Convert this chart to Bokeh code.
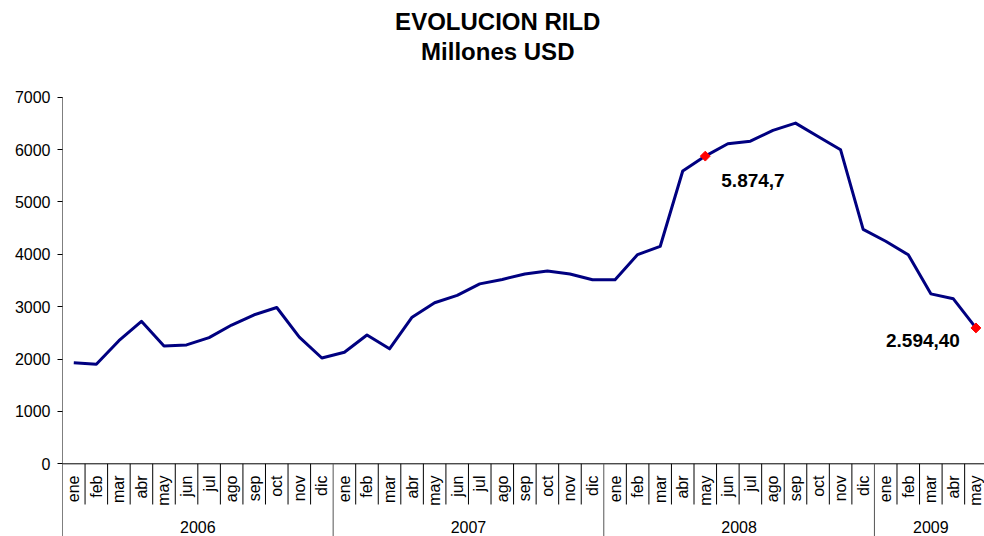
import numpy as np
from bokeh.plotting import figure
from bokeh.models import Range1d, FixedTicker, ColumnDataSource
from bokeh.core.properties import value
from bokeh.embed import file_html
from bokeh.resources import INLINE

# ---------------- data ----------------
months = ["ene", "feb", "mar", "abr", "may", "jun",
          "jul", "ago", "sep", "oct", "nov", "dic"]
years = ["2006", "2007", "2008", "2009"]
months_per_year = [12, 12, 12, 5]

rild_2006 = [1930, 1900, 2350, 2720, 2250, 2270, 2410, 2650, 2845, 2985, 2420, 2020]
rild_2007 = [2130, 2460, 2195, 2800, 3075, 3215, 3435, 3520, 3625, 3680, 3625, 3515]
rild_2008 = [3515, 3995, 4150, 5590, 5874.7, 6110, 6160, 6365, 6505, 6250, 5995, 4475]
rild_2009 = [4250, 3990, 3245, 3150, 2594.4]

highlight_index = [28, 40]
highlight_labels = ["5.874,7", "2.594,40"]

y_ticks = [0, 1000, 2000, 3000, 4000, 5000, 6000, 7000]
title_lines = ["EVOLUCION RILD", "Millones USD"]

# ---------------- derived ----------------
values = rild_2006 + rild_2007 + rild_2008 + rild_2009
n = len(values)
x = list(range(n))
month_labels = []
for cnt in months_per_year:
    month_labels += months[:cnt]

year_starts = list(np.cumsum([0] + months_per_year[:-1]))
year_centers = [s + c / 2 - 0.5 for s, c in zip(year_starts, months_per_year)]
year_bounds = [s - 0.5 for s in year_starts]

FONT = "Liberation Sans"
LINE_COLOR = "#000080"

# layout constants (y in data units)
Y_TOP, Y_BOTTOM = 8846, -1388
MONTH_LABEL_Y = -223
MONTH_SEP_Y = -777
YEAR_LABEL_Y = -1216
TITLE_X = 18.8
TITLE_Y = [8436, 7873]

p = figure(width=984, height=536, output_backend="svg", toolbar_location=None,
           x_range=Range1d(-0.5, 40.38), y_range=Range1d(Y_BOTTOM, Y_TOP),
           x_axis_location=None, y_axis_location="left",
           min_border_left=62, min_border_right=0, min_border_top=0,
           min_border_bottom=0, title=None)
p.outline_line_color = None
p.grid.visible = False
p.background_fill_color = "white"
p.border_fill_color = "white"

ax = p.yaxis[0]
ax.ticker = FixedTicker(ticks=y_ticks, minor_ticks=[])
ax.axis_line_color = None
ax.major_tick_out = 5
ax.major_tick_in = 0
ax.major_tick_line_color = "black"
ax.major_tick_line_width = 1
ax.minor_tick_line_color = None
ax.major_label_standoff = 7
ax.major_label_text_font = FONT
ax.major_label_text_font_size = "16px"
ax.major_label_text_color = "black"

# left axis line (runs from top tick down to the bottom)
p.segment(x0=[-0.5], y0=[y_ticks[-1]], x1=[-0.5], y1=[Y_BOTTOM],
          line_color="black", line_width=1)
# horizontal category axis line
p.segment(x0=[-0.5], y0=[0], x1=[n - 0.5], y1=[0], line_color="black", line_width=1)

# month separators
month_seps = [i + 0.5 for i in range(n) if (i + 1) not in year_starts]
p.segment(x0=month_seps, y0=[0] * len(month_seps), x1=month_seps,
          y1=[MONTH_SEP_Y] * len(month_seps), line_color="black", line_width=1)
# year separators
p.segment(x0=year_bounds[1:], y0=[0] * (len(year_bounds) - 1), x1=year_bounds[1:],
          y1=[Y_BOTTOM] * (len(year_bounds) - 1), line_color="#555555", line_width=1)

# month labels (rotated)
p.text(x=x, y=[MONTH_LABEL_Y] * n, text=month_labels, angle=np.pi / 2,
       text_align="right", text_baseline="middle",
       text_font=value(FONT), text_font_size="16px", text_color="black")
# year labels
p.text(x=year_centers, y=[YEAR_LABEL_Y] * len(years), text=years,
       text_align="center", text_baseline="middle",
       text_font=value(FONT), text_font_size="16px", text_color="black")

# data line
src = ColumnDataSource(dict(x=x, y=values))
p.line("x", "y", source=src, line_color=LINE_COLOR, line_width=3, line_join="round")

# highlighted points
hx = [x[i] for i in highlight_index]
hy = [values[i] for i in highlight_index]
p.scatter(hx, hy, marker="square", size=7, angle=np.pi / 4,
          fill_color="#ff0000", line_color="#ff0000")

p.text(x=[hx[0]], y=[hy[0]], text=[highlight_labels[0]], x_offset=16, y_offset=24,
       text_align="left", text_baseline="middle", text_font=value(FONT),
       text_font_size="19px", text_font_style="bold", text_color="black")
p.text(x=[hx[1]], y=[hy[1]], text=[highlight_labels[1]], x_offset=-16, y_offset=13,
       text_align="right", text_baseline="middle", text_font=value(FONT),
       text_font_size="19px", text_font_style="bold", text_color="black")

# title
p.text(x=[TITLE_X] * 2, y=TITLE_Y, text=title_lines, text_align="center",
       text_baseline="middle", text_font=value(FONT), text_font_size="24px",
       text_font_style="bold", text_color="black")

open("out.html", "w").write(file_html(p, INLINE))
